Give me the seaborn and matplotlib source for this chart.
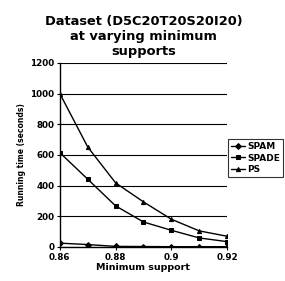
import pandas as pd
import matplotlib.pyplot as plt
import seaborn as sns

# values
supports = [0.86, 0.87, 0.88, 0.89, 0.90, 0.91, 0.92]
spam = [25, 16, 4, 3, 2, 2, 2]
spade = [615, 442, 268, 163, 109, 59, 35]
ps = [1000, 652, 418, 294, 181, 105, 70]

df = pd.DataFrame({
    'support': supports * 3,
    'time': spam + spade + ps,
    'algo': ['SPAM'] * 7 + ['SPADE'] * 7 + ['PS'] * 7,
})

sns.set_style('white', {'text.color': 'black', 'axes.labelcolor': 'black',
                        'xtick.color': 'black', 'ytick.color': 'black'})
plt.rcParams['font.family'] = ['DejaVu Sans']
plt.rcParams['font.weight'] = 'bold'

fig = plt.figure(figsize=(2.85, 2.81), dpi=100)
ax = fig.add_axes([0.21, 0.121, 0.587, 0.655])

sns.lineplot(data=df, x='support', y='time', hue='algo', style='algo',
             markers=['D', 's', '^'], dashes=False,
             palette=['black', 'black', 'black'],
             linewidth=1.0, markersize=3, markeredgecolor='black',
             ax=ax)

ax.set_xlim(0.86, 0.92)
ax.set_ylim(0, 1200)
ax.set_xticks([0.86, 0.88, 0.90, 0.92])
ax.set_xticklabels(['0.86', '0.88', '0.9', '0.92'])
ax.set_yticks(range(0, 1201, 200))
ax.tick_params(axis='both', labelsize=6.3, length=2, pad=2, direction='out',
               left=True, bottom=True, colors='black')
for lab in ax.get_xticklabels() + ax.get_yticklabels():
    lab.set_fontweight('bold')
ax.yaxis.grid(True, color='black', linewidth=0.8)
ax.set_axisbelow(True)
for s in ['top', 'right']:
    ax.spines[s].set_visible(False)
ax.spines['left'].set_color('black')
ax.spines['bottom'].set_color('black')
ax.spines['left'].set_linewidth(1)
ax.spines['bottom'].set_linewidth(1)

ax.set_xlabel('Minimum support', fontsize=6.8, fontweight='bold', labelpad=1,
              color='black')
ax.set_ylabel('Running time (seconds)', fontsize=5.5, fontweight='bold',
              labelpad=3, color='black')

ax.set_title('Dataset (D5C20T20S20I20)\nat varying minimum\nsupports',
             fontsize=9.4, fontweight='bold', linespacing=1.2, pad=6,
             color='black')

leg = ax.legend(loc='upper left', bbox_to_anchor=(0.80, 0.505),
                bbox_transform=fig.transFigure, fontsize=6.5, frameon=True,
                fancybox=False, edgecolor='black', handlelength=1.6,
                handletextpad=0.2, borderpad=0.3, labelspacing=0.3,
                borderaxespad=0)
leg.get_frame().set_linewidth(0.8)
for t in leg.get_texts():
    t.set_fontweight('bold')
    t.set_color('black')

fig.savefig('out.png', dpi=100)
